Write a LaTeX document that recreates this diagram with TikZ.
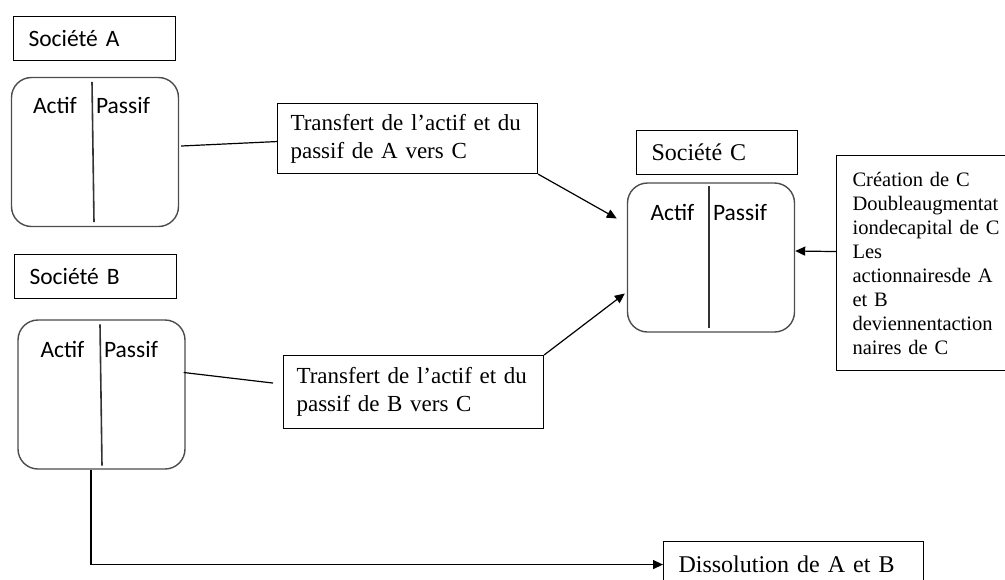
\documentclass[tikz,border=0pt]{standalone}
\usepackage{fontspec}
\setmainfont{Liberation Serif}
\newfontfamily\calibri{Carlito}
\usetikzlibrary{arrows.meta,calc}

\begin{document}
\begin{tikzpicture}[
x=1pt, y=-1pt,
titlebox/.style={draw, line width=1.1pt, anchor=north west, minimum height=44pt, text width=132pt, inner xsep=15pt, inner ysep=0pt, align=left, font=\calibri\fontsize{23.5}{28}\selectfont},
bilan/.style={draw=black!70, line width=1.4pt, rounded corners=20pt, minimum width=167pt, minimum height=149pt},
split/.style={draw=black!80, line width=1.6pt},
col/.style={anchor=base, inner sep=0pt, font=\calibri\fontsize{23.5}{28}\selectfont},
textbox/.style={draw, line width=1.1pt, anchor=north west, align=left, inner xsep=15pt, inner ysep=0pt, font=\fontsize{23}{28}\selectfont},
link/.style={line width=1.2pt},
arrow/.style={-{Triangle[length=10pt,width=9pt]}, line width=1.2pt}
]
\useasboundingbox (0,0) rectangle (1005,579);
\clip (0,0) rectangle (1005,579);

% societes
\node[titlebox] (socA) at (13,16) {Société A};
\node[titlebox] (socB) at (14,254) {Société B};
\node[titlebox, text width=131pt, font=\fontsize{24}{28}\selectfont] (socC) at (636,130) {Société C};

% bilans
\node[bilan] (balA) at (95,152) {};
\node[bilan] (balB) at (101.5,394.5) {};
\node[bilan] (balC) at (711,257.5) {};
\draw[split] ($(balA.north)+(-3,5)$) -- ($(balA.south)+(-1,-5)$);
\draw[split] ($(balB.north)+(-1.5,5)$) -- ($(balB.south)+(0.5,-4)$);
\draw[split] ($(balC.north)+(-2,4)$) -- ($(balC.south)+(-2,-5)$);
\node[col] (actA) at (55,113) {Actif};
\node[col] (pasA) at (123,113) {Passif};
\node[col] (actB) at (62.5,357) {Actif};
\node[col] (pasB) at (131,357) {Passif};
\node[col] (actC) at (672.5,220) {Actif};
\node[col] (pasC) at (740,220) {Passif};

% operations
\node[textbox, text width=234pt, inner xsep=13pt, minimum height=70pt] (trA) at (277,103) {Transfert de l’actif et du\\passif de A vers C};
\node[textbox, text width=234pt, inner xsep=13pt, minimum height=73pt] (trB) at (283,355) {Transfert de l’actif et du\\passif de B vers C};
\node[textbox, text width=180pt, inner xsep=16pt, minimum height=215pt, font=\fontsize{20.5}{24}\selectfont] (info) at (836,155) {Création de C\\Doubleaugmentat\\iondecapital de C\\Les\\actionnairesde A\\et B\\deviennentaction\\naires de C};
\node[textbox, text width=230pt, minimum height=46pt, font=\fontsize{24}{28}\selectfont] (diss) at (663,541) {Dissolution de A et B};

% liens
\draw[link] ($(balA.east)+(2,-6)$) -- ($(trA.west)+(0,3)$);
\draw[link] ($(balB.east)+(-2,-22)$) -- ($(trB.west)+(-10,-9)$);
\draw[arrow] (trA.south east) -- ($(balC.west)+(-10,-39)$);
\draw[arrow] (trB.north east) -- ($(balC.west)+(-2,36)$);
\draw[arrow] ($(info.west)+(0,-11.5)$) -- ($(balC.east)+(0,-6.5)$);
\draw[arrow] ($(balB.south)+(-10.5,0)$) |- (diss.west);
\end{tikzpicture}
\end{document}
